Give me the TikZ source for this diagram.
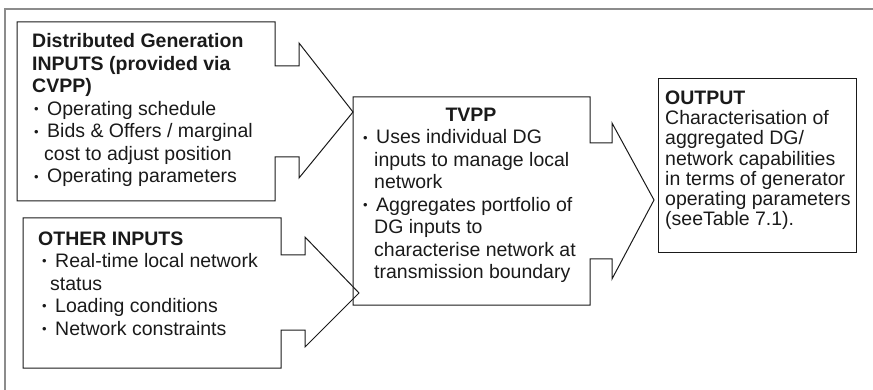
\documentclass[tikz,border=0pt]{standalone}
\usepackage{fontspec}
\setmainfont{Liberation Sans}
\begin{document}
\begin{tikzpicture}[x=1pt,y=-1pt]
    \definecolor{borderColour}{HTML}{1A1A1A}
    \definecolor{frameColour}{HTML}{8C8C8C}
    \definecolor{textColour}{HTML}{1A1A1A}
    \tikzset{
        blockText/.style={anchor=base west, inner sep=0pt, align=left, text=textColour,
            font=\fontsize{19.5}{22.5}\selectfont},
        blockLine/.style={draw=borderColour, line width=1pt, line join=miter}
    }
    \def\bul{\makebox[14pt][l]{\hspace*{1pt}\raisebox{1.8pt}{\fontsize{13}{13}\selectfont\textbullet}}}
    \useasboundingbox (0,0) rectangle (873,390);

    % Draw frame
    \draw[frameColour, line width=1.3pt] (5,390) -- (5,9) -- (873,9);

    % Block DG: box with arrow to TVPP (text placed by its last baseline)
    \coordinate (A) at (17,22);
    \coordinate (B) at (275,22);
    \coordinate (C) at (275,201);
    \coordinate (D) at (17,201);
    \draw[blockLine] (A) -- (B) -- (275,66) -- (299,66) -- (299,43) -- (353,112)
        -- (299,178) -- (299,157) -- (275,157) -- (C) -- (D) -- cycle;
    \node[blockText] (dgText) at (32,183)
        {\textbf{Distributed Generation}\\
         \textbf{INPUTS (provided via}\\
         \textbf{CVPP)}\\
         \hspace*{1pt}\bul Operating schedule\\
         \hspace*{1pt}\bul Bids \& Offers / marginal\\
         \hspace*{12pt}cost to adjust position\\
         \hspace*{1pt}\bul Operating parameters};

    % Block OTHER: box with arrow to TVPP
    \coordinate (Ao) at (23,218);
    \coordinate (Bo) at (281,218);
    \coordinate (Co) at (281,368);
    \coordinate (Do) at (23,368);
    \draw[blockLine] (Ao) -- (Bo) -- (281,255) -- (305,255) -- (305,237) -- (359,293)
        -- (305,347) -- (305,330) -- (281,330) -- (Co) -- (Do) -- cycle;
    \node[blockText] (otherText) at (38,335)
        {\textbf{OTHER INPUTS}\\
         \hspace*{3pt}\bul Real-time local network\\
         \hspace*{12pt}status\\
         \hspace*{3pt}\bul Loading conditions\\
         \hspace*{3pt}\bul Network constraints};

    % Block TVPP: box with arrow to OUTPUT
    \coordinate (At) at (353,97);
    \coordinate (Bt) at (590,97);
    \coordinate (Ct) at (590,305);
    \coordinate (Dt) at (353,305);
    \draw[blockLine] (At) -- (Bt) -- (590,143) -- (612,143) -- (612,123) -- (654,200)
        -- (612,279) -- (612,259) -- (590,259) -- (Ct) -- (Dt) -- cycle;
    \node[blockText, anchor=base] (tvppTitle) at (471,122) {\textbf{TVPP}};
    \node[blockText] (tvppText) at (362,279)
        {\bul Uses individual DG\\
         \hspace*{12pt}inputs to manage local\\
         \hspace*{12pt}network\\
         \bul Aggregates portfolio of\\
         \hspace*{12pt}DG inputs to\\
         \hspace*{12pt}characterise network at\\
         \hspace*{12pt}transmission boundary};

    % Block OUTPUT
    \draw[blockLine] (658,79) rectangle (856,253);
    \node[blockText, font=\fontsize{19.5}{20.3}\selectfont] (outText) at (665,226)
        {\textbf{OUTPUT}\\
         Characterisation of\\
         aggregated DG/\\
         network capabilities\\
         in terms of generator\\
         operating parameters\\
         (seeTable 7.1).};

\end{tikzpicture}
\end{document}
